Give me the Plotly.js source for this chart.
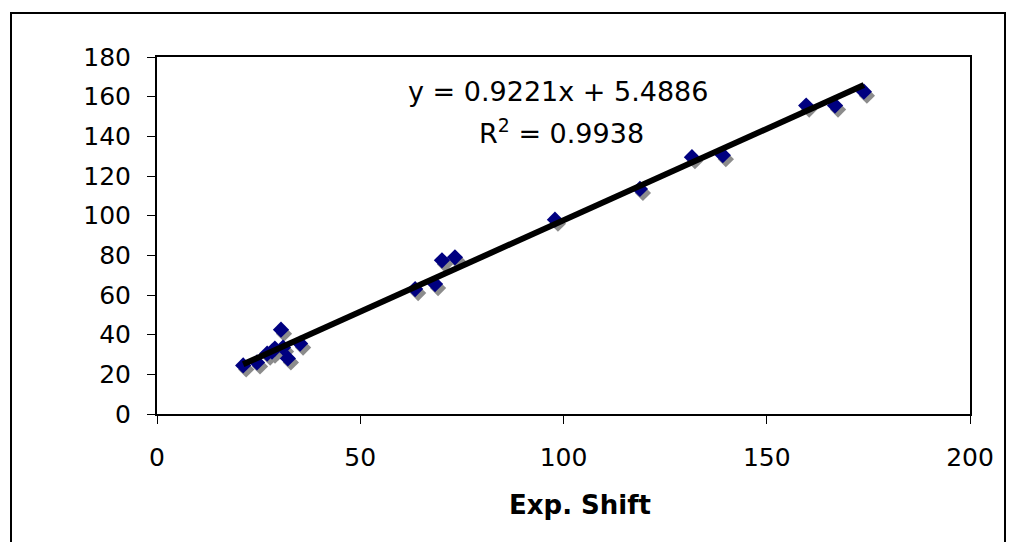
<!DOCTYPE html>
<html>
<head>
<meta charset="utf-8">
<script src="https://cdn.plot.ly/plotly-3.0.1.min.js"></script>
<style>html,body{margin:0;padding:0;background:#fff;}#chart{width:1010px;height:542px;}</style>
</head>
<body>
<div id="chart"></div>
<script>
// Data
var expShift = [21.2, 24.6, 27.1, 28.3, 29.0, 30.5, 31.0, 32.2, 35.2, 63.5, 68.4, 70.1, 73.3, 97.9, 118.8, 131.6, 139.2, 159.7, 166.8, 173.9];
var calcShift = [24.5, 26.0, 30.5, 31.5, 33.0, 42.5, 33.5, 28.0, 35.5, 63.0, 65.5, 77.5, 79.0, 98.0, 113.5, 129.5, 130.5, 155.5, 155.5, 162.5];
var slope = 0.9221, intercept = 5.4886;
var xTickVals = [0, 50, 100, 150, 200];
var yTickVals = [0, 20, 40, 60, 80, 100, 120, 140, 160, 180];
var xTitle = 'Exp. Shift';

var xMin = Math.min.apply(null, expShift), xMax = Math.max.apply(null, expShift);
var fitX = [xMin, xMax];
var fitY = fitX.map(function(v){ return slope * v + intercept; });

// shadow: base axes with shifted range (hidden); real axes overlay on top
var pxPerX = 813 / 200, pxPerY = 357 / 180;
var dx = 3 / pxPerX, dy = 4 / pxPerY;

var font = "DejaVu Sans, Verdana, sans-serif";

var traces = [
  {x: expShift, y: calcShift, mode: 'markers', type: 'scatter',
   marker: {symbol: 'diamond', size: 12.5, color: '#8c8c8c', line: {width: 0}}, hoverinfo: 'skip'},
  {x: expShift, y: calcShift, mode: 'markers', type: 'scatter', xaxis: 'x2', yaxis: 'y2',
   marker: {symbol: 'diamond', size: 12.5, color: '#000080', line: {width: 0}}},
  {x: fitX, y: fitY, mode: 'lines', type: 'scatter', xaxis: 'x2', yaxis: 'y2', line: {color: '#000', width: 6}}
];

var layout = {
  width: 1010, height: 542,
  margin: {l: 157, r: 40, t: 57, b: 128},
  paper_bgcolor: '#fff', plot_bgcolor: '#fff',
  showlegend: false,
  font: {family: font, size: 25, color: '#000'},
  xaxis: {range: [0 - dx, 200 - dx], visible: false},
  yaxis: {range: [0 + dy, 180 + dy], visible: false},
  xaxis2: {range: [0, 200], overlaying: 'x', side: 'bottom', anchor: 'y2', tickvals: xTickVals, showgrid: false, zeroline: false,
    showline: true, mirror: true, linecolor: '#000', linewidth: 2,
    ticks: 'outside', ticklen: 8, tickwidth: 1, tickcolor: '#000',
    tickfont: {family: font, size: 25}, ticklabelstandoff: 12},
  yaxis2: {range: [0, 180], overlaying: 'y', side: 'left', anchor: 'x2', tickvals: yTickVals, showgrid: false, zeroline: false,
    showline: true, mirror: true, linecolor: '#000', linewidth: 2,
    ticks: 'outside', ticklen: 8, tickwidth: 1, tickcolor: '#000',
    tickfont: {family: font, size: 25}, ticklabelstandoff: 11},
  annotations: [
    {text: 'y = 0.9221x + 5.4886', xref: 'paper', yref: 'paper', x: (558 - 157) / 813, y: (414 - 91) / 357,
     showarrow: false, font: {family: font, size: 27}, xanchor: 'center', yanchor: 'middle'},
    {text: 'R<sup>2</sup> = 0.9938', xref: 'paper', yref: 'paper', x: (561 - 157) / 813, y: (414 - 131) / 357,
     showarrow: false, font: {family: font, size: 27}, xanchor: 'center', yanchor: 'middle'},
    {text: '<b>' + xTitle + '</b>', xref: 'paper', yref: 'paper', x: (580 - 157) / 813, y: (414 - 505) / 357,
     showarrow: false, font: {family: font, size: 26}, xanchor: 'center', yanchor: 'middle'}
  ],
  shapes: [
    {type: 'rect', xref: 'paper', yref: 'paper', x0: (11 - 157) / 813, x1: (1005 - 157) / 813,
     y0: (414 - 560) / 357, y1: (414 - 13) / 357, line: {color: '#000', width: 2}, fillcolor: 'rgba(0,0,0,0)', layer: 'below'}
  ]
};

Plotly.newPlot('chart', traces, layout, {displayModeBar: false, staticPlot: true});
</script>
</body>
</html>
